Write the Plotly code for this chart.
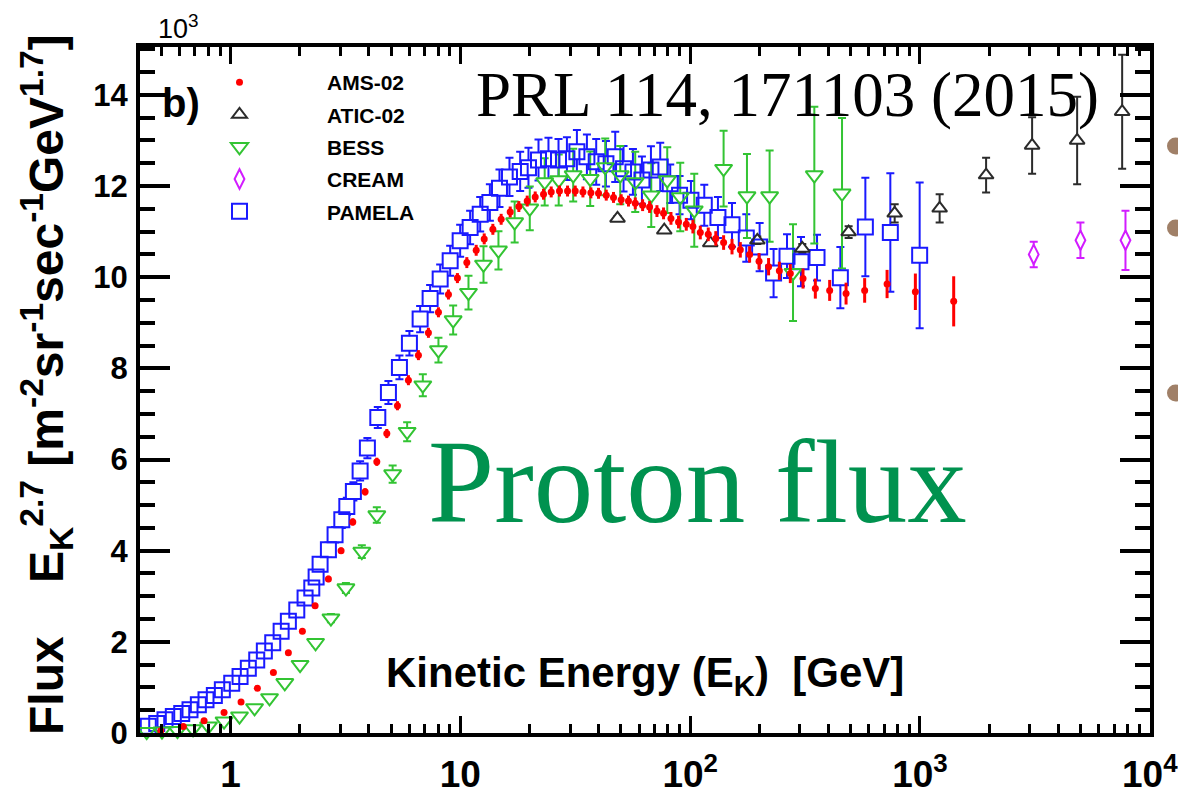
import plotly.graph_objects as go

# Proton flux multiplied by E_K^2.7, in units of 10^3 m^-2 sr^-1 s^-1 GeV^1.7
# Kinetic energies in GeV.

# AMS-02
ams_ek = [0.497, 0.623, 0.767, 0.937, 1.111, 1.308, 1.536, 1.785, 2.054, 2.333,
          2.666, 3.027, 3.404, 3.851, 4.330, 4.786, 5.324, 5.943, 6.570, 7.263,
          8.030, 8.876, 9.71, 10.67, 11.72, 12.70, 13.85, 15.05, 16.48, 17.97,
          19.54, 21.17, 23.01, 24.85, 27.0, 29.27, 31.61, 34.15, 36.99, 39.93,
          43.14, 46.4, 50.1, 53.9, 57.7, 62.1, 66.6, 71.7, 76.6, 82.5,
          89.0, 96.2, 102.8, 110.7, 119.9, 129.3, 139.8, 152.1, 165.3, 181.4,
          199.4, 219.4, 244.4, 272.8, 309.8, 350.5, 404.6, 476.9, 574.6, 719.3,
          955.0, 1402.0]
ams_flux = [0.05, 0.14, 0.27, 0.45, 0.68, 0.98, 1.33, 1.76, 2.23, 2.79,
            3.38, 4.00, 4.63, 5.29, 5.95, 6.57, 7.18, 7.74, 8.29, 8.78,
            9.23, 9.62, 9.98, 10.32, 10.59, 10.84, 11.05, 11.27, 11.43, 11.55,
            11.67, 11.76, 11.82, 11.87, 11.89, 11.89, 11.89, 11.87, 11.85, 11.84,
            11.80, 11.75, 11.70, 11.67, 11.62, 11.58, 11.54, 11.45, 11.40, 11.29,
            11.21, 11.16, 11.11, 10.98, 10.94, 10.85, 10.76, 10.67, 10.60, 10.50,
            10.35, 10.23, 10.14, 10.08, 9.97, 9.75, 9.71, 9.64, 9.71, 9.85,
            9.68, 9.47]
ams_err = [0.02, 0.03, 0.03, 0.04, 0.04, 0.05, 0.05, 0.05, 0.06, 0.06,
           0.07, 0.07, 0.08, 0.08, 0.09, 0.10, 0.10, 0.11, 0.11, 0.11,
           0.11, 0.11, 0.11, 0.12, 0.12, 0.12, 0.12, 0.12, 0.12, 0.12,
           0.12, 0.12, 0.12, 0.12, 0.12, 0.12, 0.12, 0.12, 0.12, 0.12,
           0.12, 0.12, 0.12, 0.12, 0.13, 0.13, 0.13, 0.13, 0.13, 0.14,
           0.14, 0.14, 0.15, 0.15, 0.15, 0.16, 0.16, 0.17, 0.17, 0.18,
           0.18, 0.19, 0.20, 0.21, 0.22, 0.22, 0.23, 0.24, 0.27, 0.31,
           0.40, 0.55]

# PAMELA
pam_ek = [0.4386, 0.4773, 0.5186, 0.5636, 0.6132, 0.6662, 0.7243, 0.7821, 0.8502, 0.9211,
          1.012, 1.100, 1.195, 1.300, 1.403, 1.526, 1.660, 1.785, 1.942, 2.110,
          2.257, 2.357, 2.453, 2.666, 2.850, 3.049, 3.206, 3.424, 3.663, 3.940,
          4.373, 4.864, 5.432, 6.003, 6.683, 7.387, 8.169, 9.030, 9.98, 11.03,
          12.20, 13.44, 14.80, 16.36, 18.21, 19.79, 21.88, 24.18, 26.74, 29.09,
          32.15, 35.54, 39.01, 43.00, 47.20, 51.30, 56.36, 61.68, 67.51, 74.10,
          81.91, 89.93, 100.8, 115.2, 132.1, 152.1, 175.5, 200.6, 230.7, 263.9,
          303.6, 356.5, 450.4, 578.6, 743.1, 997.0]
pam_flux = [0.15, 0.21, 0.29, 0.36, 0.43, 0.51, 0.62, 0.73, 0.82, 0.95,
            1.09, 1.24, 1.42, 1.60, 1.80, 1.98, 2.23, 2.45, 2.70, 2.96,
            3.18, 3.42, 3.70, 4.02, 4.35, 4.68, 4.97, 5.30, 5.75, 6.25,
            6.92, 7.47, 8.02, 8.55, 9.08, 9.53, 9.96, 10.36, 10.80, 11.09,
            11.38, 11.64, 11.95, 12.20, 12.32, 12.40, 12.57, 12.60, 12.57, 12.60,
            12.75, 12.64, 12.53, 12.49, 12.64, 12.38, 12.31, 12.13, 12.35, 12.42,
            12.05, 11.80, 11.69, 11.58, 11.31, 11.15, 10.86, 10.66, 10.09, 10.46,
            10.34, 10.43, 9.99, 11.10, 10.98, 10.48]
pam_err = [0.02, 0.02, 0.02, 0.03, 0.03, 0.03, 0.04, 0.04, 0.05, 0.05,
           0.06, 0.06, 0.07, 0.08, 0.08, 0.09, 0.10, 0.11, 0.12, 0.13,
           0.14, 0.15, 0.15, 0.16, 0.17, 0.18, 0.19, 0.20, 0.21, 0.22,
           0.23, 0.25, 0.26, 0.27, 0.29, 0.30, 0.32, 0.33, 0.35, 0.37,
           0.38, 0.40, 0.41, 0.42, 0.43, 0.44, 0.45, 0.46, 0.46, 0.47,
           0.48, 0.49, 0.50, 0.50, 0.55, 0.50, 0.50, 0.52, 0.52, 0.53,
           0.42, 0.42, 0.42, 0.45, 0.45, 0.48, 0.52, 0.53, 0.53, 0.48,
           0.54, 0.50, 0.67, 1.08, 1.30, 1.60]

# BESS
bess_ek = [0.4316, 0.5031, 0.5877, 0.6868, 0.8021, 0.9369, 1.094, 1.272, 1.478, 1.722,
           2.007, 2.344, 2.734, 3.177, 3.726, 4.330, 5.074, 5.867, 6.866, 8.030,
           9.305, 10.85, 12.61, 14.65, 17.23, 20.05, 23.28, 26.79, 30.98, 36.74,
           42.70, 49.63, 57.68, 67.72, 79.49, 90.56, 104.2, 139.8, 176.7, 221.7,
           280.3, 347.0, 458.0]
bess_flux = [0.03, 0.04, 0.05, 0.09, 0.15, 0.26, 0.37, 0.55, 0.77, 1.10,
             1.50, 1.98, 2.52, 3.18, 3.98, 4.78, 5.68, 6.61, 7.63, 8.40,
             9.06, 9.66, 10.28, 10.59, 11.21, 11.51, 12.09, 12.13, 12.24, 12.16,
             12.42, 12.24, 12.09, 11.80, 12.13, 11.76, 11.47, 12.38, 11.78, 11.78,
             10.10, 12.24, 11.84]
bess_err = [0.01, 0.01, 0.01, 0.01, 0.02, 0.02, 0.03, 0.03, 0.04, 0.05,
            0.06, 0.07, 0.09, 0.11, 0.14, 0.17, 0.19, 0.21, 0.24, 0.27,
            0.32, 0.37, 0.40, 0.42, 0.45, 0.48, 0.52, 0.56, 0.58, 0.60,
            0.62, 0.64, 0.66, 0.70, 0.72, 0.75, 0.80, 0.83, 0.92, 1.00,
            1.06, 1.50, 1.65]

# ATIC-02
atic_ek = [48.30, 77.15, 122.3, 196.0, 307.6, 489.3, 776.2, 1218.0, 1940.0, 3076.0, 4830.0, 7583.0]
atic_flux = [11.29, 11.03, 10.75, 10.81, 10.63, 10.99, 11.40, 11.51, 12.24, 12.89, 13.00, 13.63]
atic_err = [0.05, 0.05, 0.06, 0.08, 0.10, 0.13, 0.20, 0.31, 0.38, 0.62, 0.96, 1.25]

# CREAM
cream_ek = [3126.0, 4993.0, 7840.0]
cream_flux = [10.50, 10.81, 10.81]
cream_err = [0.28, 0.39, 0.65]

x_tick_vals = [1, 10, 100, 1000, 10000]
x_tick_text = ["1", "10", "10<sup>2</sup>", "10<sup>3</sup>", "10<sup>4</sup>"]
x_minor_vals = [m * 10 ** k for k in range(-1, 4) for m in range(2, 10)]

# ---------------------------------------------------------------- layout frame
W, H = 1178, 796
PL, PR, PT, PB = 140, 1150, 47, 733


def fx(px):
    return (px - PL) / (PR - PL)


def fy(py):
    return (PB - py) / (PB - PT)


SANS = "Liberation Sans, Arial, Helvetica, sans-serif"
SERIF = "Liberation Serif, Times New Roman, serif"

RED = "#ff0000"
BLUE = "#1a1aff"
GREEN = "#33c433"
BLACK = "#2b2b2b"
MAGENTA = "#d21cff"

fig = go.Figure()

# hollow series: (name, x, y, err, colour, symbol, size, rank)
hollow = [
    ("PAMELA", pam_ek, pam_flux, pam_err, BLUE, "square", 15, 5),
    ("BESS", bess_ek, bess_flux, bess_err, GREEN, "triangle-down", 15, 3),
    ("ATIC-02", atic_ek, atic_flux, atic_err, BLACK, "triangle-up", 13, 2),
    ("CREAM", cream_ek, cream_flux, cream_err, MAGENTA, "diamond-tall", 14, 4),
]

# error bars, with a white core so the bar stops at the marker outline
for name, xs, ys, es, col, sym, size, rank in hollow:
    fig.add_trace(go.Scatter(
        x=xs, y=ys, mode="markers", showlegend=False, hoverinfo="skip",
        cliponaxis=False,
        marker=dict(symbol=sym, size=size - 1, color="white", line=dict(width=0)),
        error_y=dict(type="data", array=es, color=col, thickness=2, width=4),
    ))

# open markers on top
for name, xs, ys, es, col, sym, size, rank in hollow:
    fig.add_trace(go.Scatter(
        x=xs, y=ys, mode="markers", name=name, legendrank=rank,
        legendgroup=name, cliponaxis=False,
        marker=dict(symbol=sym + "-open", size=size, color=col,
                    line=dict(width=2, color=col)),
    ))

# AMS-02 dots with plain vertical bars
fig.add_trace(go.Scatter(
    x=ams_ek, y=ams_flux, mode="markers", name="AMS-02", legendrank=1,
    legendgroup="AMS-02", cliponaxis=False,
    marker=dict(symbol="circle", size=7, color=RED, line=dict(width=0)),
    error_y=dict(type="data", array=ams_err, color=RED, thickness=3, width=0),
))

axis_common = dict(
    showline=True, linewidth=4, linecolor="black", mirror="ticks",
    ticks="inside", tickcolor="black", showgrid=False, zeroline=False,
    automargin=False,
)

fig.update_layout(
    width=W, height=H,
    margin=dict(l=PL, r=W - PR, t=PT, b=H - PB, pad=0, autoexpand=False),
    paper_bgcolor="white", plot_bgcolor="white",
    font=dict(family=SANS, color="black"),
    xaxis=dict(
        type="log", range=[-0.394, 4.001],
        tickmode="array", tickvals=x_tick_vals, ticktext=x_tick_text,
        ticklen=17, tickwidth=3,
        tickfont=dict(family=SANS, size=37, weight="bold", color="black"),
        ticklabelstandoff=6, ticklabeloverflow="allow",
        minor=dict(tickmode="array", tickvals=x_minor_vals, ticks="inside",
                   ticklen=9, tickwidth=3, tickcolor="black", showgrid=False),
        **axis_common,
    ),
    yaxis=dict(
        range=[0, 15.05], tick0=0, dtick=2,
        ticklen=30, tickwidth=4,
        tickfont=dict(family=SANS, size=31, weight="bold", color="black"),
        ticklabelstandoff=2,
        minor=dict(dtick=0.5, ticks="inside", ticklen=15, tickwidth=4,
                   tickcolor="black", showgrid=False),
        **axis_common,
    ),
    legend=dict(
        x=fx(152), y=fy(62), xanchor="left", yanchor="top",
        bgcolor="rgba(0,0,0,0)", borderwidth=0,
        font=dict(family=SANS, size=21, weight="bold", color="black"),
        itemwidth=165, traceorder="grouped", tracegroupgap=2,
    ),
    showlegend=True,
)

annotations = [
    # axis multiplier
    dict(text="10<sup>3</sup>", x=fx(156), y=fy(46), xanchor="left", yanchor="bottom",
         font=dict(family=SANS, size=27, color="black")),
    dict(text="b)", x=fx(181), y=fy(103), xanchor="center", yanchor="middle",
         font=dict(family=SANS, size=40, weight="bold", color="black")),
    dict(text="PRL 114, 171103 (2015)", x=fx(787), y=fy(95), xanchor="center",
         yanchor="middle", font=dict(family=SERIF, size=63, color="black")),
    dict(text="Proton flux", x=fx(697), y=fy(482), xanchor="center", yanchor="middle",
         font=dict(family=SERIF, size=119, color="rgb(0,146,79)")),
    dict(text="Kinetic Energy (E<sub>K</sub>)\u00a0\u00a0[GeV]", x=fx(645), y=fy(675),
         xanchor="center", yanchor="middle",
         font=dict(family=SANS, size=42, weight="bold", color="black")),
    dict(text="Flux\u00a0\u00a0\u00a0\u00a0E<sub>K</sub><sup>2.7</sup>\u00a0"
              "[m<sup>-2</sup>sr<sup>-1</sup>sec<sup>-1</sup>GeV<sup>1.7</sup>]",
         x=fx(46), y=fy(385), xanchor="center", yanchor="middle", textangle=-90,
         font=dict(family=SANS, size=48, weight="bold", color="black")),
]
for a in annotations:
    a.update(xref="paper", yref="paper", showarrow=False)
fig.update_layout(annotations=annotations)

# slide bullets peeking in at the right edge
for by in (146, 228, 393):
    fig.add_shape(type="circle", xref="paper", yref="paper",
                  x0=fx(1167), x1=fx(1184), y0=fy(by + 8.5), y1=fy(by - 8.5),
                  fillcolor="rgb(160,128,104)", line=dict(width=0), layer="above")

fig.write_html("out.html")
